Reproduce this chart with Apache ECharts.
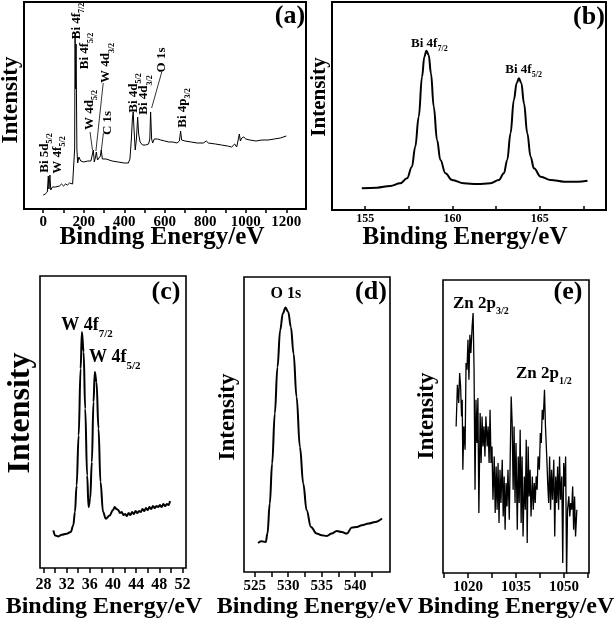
<!DOCTYPE html>
<html><head><meta charset="utf-8">
<script src="https://cdn.jsdelivr.net/npm/echarts@6/dist/echarts.min.js"></script>
<style>html,body{margin:0;padding:0;background:#fff}#c{width:616px;height:620px}</style>
</head><body><div id="c"></div>
<script>
// ---------- DATA ----------
// (a) survey spectrum
const surveyEnergy = [0,10,20,25,28,33,37,45,60,80, 90,100,110,120,130,145,152,155,157,160,
  162,166,170,176,185,200,220,235,243,247, 252,258,262,268,275,282,286,292,310,340,
  370,400,420,428,435,440,444,448,454,460, 466,471,478,490,505,520,526,530,535,540,
  548,555,565,580,600,620,640,660,672,678, 683,700,730,760,790,805,815,850,880,910,
  930,945,955,962,968,973,980,990,1000,1020, 1050,1080,1110,1140,1170,1200];
const surveyIntensity = [14,15,17,33,20,34,19,22,22,23, 25,23,25,24,26,25,27,60,176,120,
  165,60,46,52,48,47,48,48,55,59, 47,52,57,49,50,53,59,50,50,48,
  47,46,46,50,70,90,97,80,59,70, 92,75,67,64,64,65,70,97,70,66,
  70,72,70,69,68,67,67,66,68,78, 69,68,67,66,66,68,66,65,64,63,
  62,65,62,64,75,68,71,72,70,69, 68,69,69,70,71,73];
const surveyTicks = [0,100,200,300,400,500,600,700,800,900,1000,1100,1200];
const surveyTickLabels = [0,200,400,600,800,1000,1200];

// (b) Bi 4f
const biEnergy = [154.81,155.67,156.44,157.01,157.40,157.68,157.87,158.07,158.26,158.39,
  158.51,158.64,158.77,158.93,159.12,159.31,159.60,159.98,160.65,161.42,
  162.18,162.66,162.95,163.14,163.33,163.52,163.68,163.81,163.95,164.10,
  164.29,164.48,164.67,165.06,165.63,166.40,167.16,167.74];
const biIntensity = [21.7,22.3,24,26.7,31.7,43.3,63.3,93.3,133.3,153.3,
  159.3,155,136.7,103.3,70,50,36.7,30,26.7,26,
  26.7,30,36.7,50,76.7,110,126.7,131.7,126.7,106.7,
  76.7,53.3,41.7,33.3,30,28.3,28.3,29.3];
const biTicks = [155,157.5,160,162.5,165,167.5];
const biTickLabels = [155,160,165];

// (c) W 4f
const wEnergy = [29.71,30.0,30.57,31.15,32.0,32.7,33.14,33.43,33.72,34.07,
  34.41,34.63,34.93,35.2,35.54,35.78,36.06,36.35,36.63,36.86,
  37.15,37.5,37.84,38.29,38.75,39.43,40.0,40.3,40.6,40.9,
  41.2,41.5,41.8,42.1,42.4,42.7,43.0,43.3,43.6,43.9,
  44.2,44.5,44.8,45.1,45.4,45.7,46.0,46.3,46.6,46.9,
  47.2,47.5,47.8,48.1,48.4,48.7,49.0,49.3,49.6,49.84];
const wIntensity = [37.6,32.6,31.6,33.3,34.3,36,42.6,56,82.6,132.6,
  199.3,236,216,159.3,92.6,61,69.3,106,166,196,
  186,139.3,86,56,49.3,52.6,58,61,59,58,
  55,56,53,54,52,55,53,56,54,57,
  55,57,56,59,57,60,58,61,59,62,
  60,62,61,63,61,64,62,64,63,67];
const wTicks = [28,30,32,34,36,38,40,42,44,46,48,50,52];
const wTickLabels = [28,32,36,40,44,48,52];

// (d) O 1s
const oEnergy = [525.5,526.0,526.65,526.9,527.25,527.6,528.0,528.4,528.8,529.2,
  529.6,530.0,530.4,530.8,531.25,531.75,532.25,532.75,533.4,534.25,
  535.0,535.75,536.5,537.25,538.0,538.75,539.5,540.25,541.0,542.0,543.0,544.0];
const oIntensity = [29,30.7,30,38.4,68.4,108.4,158.4,205,241.7,258.4,
  264.4,260,245,218.4,175,125,88.4,61.7,45,38.4,
  36.7,36,38.4,41,40,38.4,44.4,45,46.7,48.4,50,53.4];
const oTicks = [525,527.5,530,532.5,535,537.5,540,542.5];
const oTickLabels = [525,530,535,540];

// (e) Zn 2p
const znEnergy = [1016.3,1016.7,1017.1,1017.4,1017.7,1018.0,1018.2,1018.4,1018.7,1019.1,
  1019.4,1019.7,1020.0,1020.3,1020.6,1020.9,1021.3,1021.6,1021.9,1022.2,
  1022.5,1022.8,1023.1,1023.4,1023.8,1024.1,1024.4,1024.7,1025.0,1025.3,
  1025.6,1026.0,1026.3,1026.6,1026.9,1027.2,1027.5,1027.8,1028.2,1028.5,
  1028.8,1029.1,1029.4,1029.7,1030.0,1030.3,1030.7,1031.0,1031.3,1031.6,
  1031.9,1032.2,1032.5,1032.9,1033.2,1033.5,1033.8,1034.1,1034.4,1034.7,
  1035.0,1035.4,1035.7,1036.0,1036.3,1036.6,1036.9,1037.2,1037.6,1037.9,
  1038.2,1038.5,1038.8,1039.1,1039.4,1039.7,1040.1,1040.4,1040.7,1041.0,
  1041.3,1041.6,1041.9,1042.3,1042.6,1042.9,1043.2,1043.5,1043.9,1044.2,
  1044.6,1044.9,1045.2,1045.5,1045.8,1046.1,1046.4,1046.8,1047.1,1047.4,
  1047.7,1048.0,1048.3,1048.6,1048.9,1049.3,1049.6,1049.9,1050.2,1050.5,
  1050.8,1051.1,1051.5,1051.8,1052.1,1052.4,1052.7,1053.0,1053.3,1053.6,
  1054.0];
const znIntensity = [146.6,188.3,170,200,186.6,156.6,173.3,103.3,146.6,123.3,
  210,203.3,233.3,193.3,238.3,220,246.6,260,203.3,83.3,
  173.3,130,175,60,160,110,156.6,126.6,146.6,116.6,
  156.6,126.6,146.6,110,163.3,110,126.6,73.3,116.6,60,
  106.6,63.3,110,50,103.3,70,113.3,56.6,96.6,43.3,
  90,66.6,103.3,53.3,116.6,176.6,150,83.3,146.6,70,
  130,43.3,116.6,70,143.3,50,116.6,36.6,96.6,63.3,
  133.3,30,126.6,76.6,103.3,56.6,96.6,63.3,90,70,
  96.6,83.3,116.6,103.3,140,130,163.3,153.3,183.3,146.6,
  116.6,90,70,116.6,63.3,103.3,73.3,113.3,36.6,96.6,
  70,106.6,63.3,116.6,73.3,96.6,10,110,86.6,116.6,
  -5,63.3,76.6,56.6,70,63.3,86.6,43.3,76.6,36.6,
  63.3];
const znTicks = [1012.5,1020,1027.5,1035,1042.5,1050,1057.5];
const znTickLabels = [1020,1035,1050];

// peak annotations (data coordinates of each panel)
const surveyPeaks = [
  {main:'Bi 5d', sub:'5/2', x:13, y:56},
  {main:'W 4f', sub:'5/2', x:77, y:54},
  {main:'Bi 4f', sub:'7/2', x:170, y:188},
  {main:'Bi 4f', sub:'5/2', x:214, y:158},
  {main:'W 4d', sub:'5/2', x:235, y:99},
  {main:'W 4d', sub:'3/2', x:317, y:146},
  {main:'C 1s', sub:'', x:324, y:86},
  {main:'Bi 4d', sub:'5/2', x:455, y:116},
  {main:'Bi 4d', sub:'3/2', x:505, y:114},
  {main:'O 1s', sub:'', x:594, y:149},
  {main:'Bi 4p', sub:'3/2', x:695, y:101}
];
const surveyLeaders = [
  [[231,77],[243,59]],
  [[296,126],[260,58]],
  [[297,76],[287,59]],
  [[585,137],[535,101]]
];
const panelPeaks = [
  {g:1, main:'Bi 4f', sub:'7/2', x:158.68, y:165, fs:13, ss:8},
  {g:1, main:'Bi 4f', sub:'5/2', x:164.08, y:139, fs:13, ss:8},
  {g:2, main:'W 4f', sub:'7/2', x:35.5, y:240, fs:18, ss:11},
  {g:2, main:'W 4f', sub:'5/2', x:40.3, y:208, fs:18, ss:11},
  {g:3, main:'O 1s', sub:'', x:529.65, y:276, fs:16, ss:10},
  {g:4, main:'Zn 2p', sub:'3/2', x:1024.0, y:267, fs:17, ss:10},
  {g:4, main:'Zn 2p', sub:'1/2', x:1043.7, y:197, fs:17, ss:10}
];

// ---------- CHART ----------
const FONT = 'Liberation Serif';
const chart = echarts.init(document.getElementById('c'));
const pairs = (xs, ys) => xs.map((x, i) => [x, ys[i]]);

const grids = [
  {left:24, top:2, width:282, height:207, bw:2},
  {left:332, top:2, width:274, height:208, bw:2},
  {left:40, top:276, width:146, height:292, bw:1.6},
  {left:244, top:277, width:146, height:295, bw:1.6},
  {left:443, top:280, width:146, height:293, bw:1.6}
];
const xCfg = [
  {min:-95, max:1297, ticks:surveyTicks, labels:surveyTickLabels, fs:15, margin:6, inside:false, len:4},
  {min:153.1, max:168.8, ticks:biTicks, labels:biTickLabels, fs:12, margin:3, inside:true, len:4},
  {min:27.4, max:52.6, ticks:wTicks, labels:wTickLabels, fs:16, margin:9, inside:false, len:5},
  {min:523.4, max:545.2, ticks:oTicks, labels:oTickLabels, fs:15, margin:7, inside:false, len:5},
  {min:1012.2, max:1057.8, ticks:znTicks, labels:znTickLabels, fs:15, margin:7, inside:false, len:5}
];
const yMax = [207, 208, 292, 295, 293];
const seriesData = [
  pairs(surveyEnergy, surveyIntensity),
  pairs(biEnergy, biIntensity),
  pairs(wEnergy, wIntensity),
  pairs(oEnergy, oIntensity),
  pairs(znEnergy, znIntensity)
];
const lw = [1, 2, 2, 2, 1.3];
const smooth = [false, 0.4, 0.4, 0.4, false];

const option = {
  animation:false,
  grid: grids.map(g => ({left:g.left, top:g.top, width:g.width, height:g.height, show:true,
    borderColor:'#000', borderWidth:g.bw, backgroundColor:'transparent'})),
  xAxis: xCfg.map((c, i) => ({type:'value', gridIndex:i, min:c.min, max:c.max,
    splitLine:{show:false}, axisLine:{show:false},
    axisTick:{show:true, inside:c.inside, length:c.len, customValues:c.ticks, lineStyle:{color:'#000', width:1.5}},
    axisLabel:{show:true, customValues:c.labels, formatter:v => String(v), fontFamily:FONT, fontWeight:'bold', fontSize:c.fs, color:'#000', margin:c.margin}})),
  yAxis: yMax.map((m, i) => ({type:'value', gridIndex:i, min:0, max:m, show:false, splitLine:{show:false}})),
  series: seriesData.map((d, i) => ({type:'line', xAxisIndex:i, yAxisIndex:i, data:d, showSymbol:false, symbol:'none',
    smooth:smooth[i], smoothMonotone:'x', clip:true, lineStyle:{color:'#000', width:lw[i]}}))
};
chart.setOption(option);

function rich(main, sub, fs, ss) {
  const L = Math.round(0.95 * fs + ss / 2);
  return {
    text: sub ? '{m|' + main + '}{s|' + sub + '}' : '{m|' + main + '}',
    rich: {
      m: {fontFamily:FONT, fontWeight:'bold', fontSize:fs, fill:'#000', lineHeight:L, verticalAlign:'top'},
      s: {fontFamily:FONT, fontWeight:'bold', fontSize:ss, fill:'#000', lineHeight:ss, verticalAlign:'bottom'}
    },
    align:'center', verticalAlign:'middle', fill:'#000'
  };
}
function plain(text, x, y, fs, rot) {
  return {type:'text', x, y, rotation: rot || 0, silent:true,
    style:{text, fontFamily:FONT, fontWeight:'bold', fontSize:fs, fill:'#000', align:'center', verticalAlign:'middle'}};
}
const graphics = [];
surveyPeaks.forEach(p => {
  const [x, y] = chart.convertToPixel({gridIndex:0}, [p.x, p.y]);
  graphics.push({type:'text', x, y, rotation:Math.PI/2, silent:true, style:rich(p.main, p.sub, 13, 8)});
});
surveyLeaders.forEach(l => {
  const a = chart.convertToPixel({gridIndex:0}, l[0]);
  const b = chart.convertToPixel({gridIndex:0}, l[1]);
  graphics.push({type:'line', silent:true, shape:{x1:a[0], y1:a[1], x2:b[0], y2:b[1]}, style:{stroke:'#000', lineWidth:0.8}});
});
panelPeaks.forEach(p => {
  const [x, y] = chart.convertToPixel({gridIndex:p.g}, [p.x, p.y]);
  graphics.push({type:'text', x, y, silent:true, style:rich(p.main, p.sub, p.fs, p.ss)});
});
// axis titles and panel letters
const R = Math.PI / 2;
graphics.push(
  plain('Intensity', 11, 100, 23, R),
  plain('Intensity', 320, 97, 21, R),
  plain('Intensity', 21, 413, 32, R),
  plain('Intensity', 228, 417, 23, R),
  plain('Intensity', 427, 416, 23, R),
  plain('Binding Energy/eV', 162, 238, 25),
  plain('Binding Energy/eV', 465, 238, 25),
  plain('Binding Energy/eV', 104, 607, 24),
  plain('Binding Energy/eV', 315, 607, 24),
  plain('Binding Energy/eV', 516, 607, 24),
  plain('(a)', 290, 16, 26),
  plain('(b)', 589, 17, 26),
  plain('(c)', 166, 292, 26),
  plain('(d)', 371, 292, 26),
  plain('(e)', 568, 292, 26)
);
chart.setOption({graphic: graphics});
</script>
</body></html>
